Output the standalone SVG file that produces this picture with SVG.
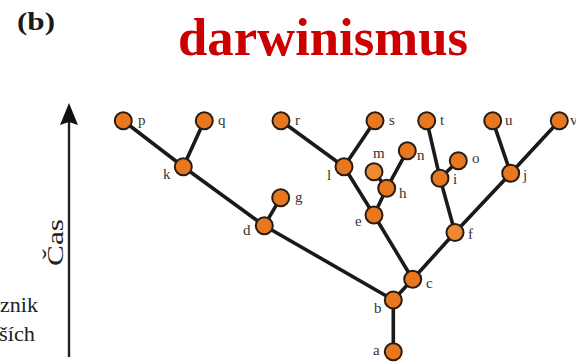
<svg xmlns="http://www.w3.org/2000/svg" width="576" height="363" viewBox="0 0 576 363">
<style>
.e{stroke:#1a1a1a;stroke-width:3.6;fill:none;stroke-linecap:round}
.n{fill:#e8781f;stroke:#2a1c10;stroke-width:2}
.l{font-family:"Liberation Serif","DejaVu Serif",serif;font-size:15px;fill:#333}
.t{font-family:"Liberation Serif","DejaVu Serif",serif}
</style>
<rect width="576" height="363" fill="#fff"/>
<text class="t" x="17" y="30" font-weight="bold" font-size="26" fill="#1a1a1a" textLength="38" lengthAdjust="spacingAndGlyphs">(b)</text>
<text class="t" x="178" y="55" font-weight="bold" font-size="52" fill="#cc0000" textLength="290" lengthAdjust="spacingAndGlyphs">darwinismus</text>
<g id="axis">
<line x1="69" y1="118" x2="69" y2="357" stroke="#222" stroke-width="2.4"/>
<path d="M69,103 L78,125 L69,122 L60,125 Z" fill="#111"/>
<text class="t" transform="translate(63,266) rotate(-90)" font-size="23" fill="#222" textLength="47" lengthAdjust="spacingAndGlyphs">Čas</text>
</g>
<text class="t" x="0" y="312" font-size="21" fill="#222" textLength="38" lengthAdjust="spacingAndGlyphs">znik</text>
<text class="t" x="-1" y="341" font-size="21" fill="#222" textLength="36" lengthAdjust="spacingAndGlyphs">ších</text>
<g id="connectors">
<line class="e" x1="123.3" y1="120.7" x2="183.3" y2="166.7"/>
<line class="e" x1="204.3" y1="120.7" x2="183.3" y2="166.7"/>
<line class="e" x1="183.3" y1="166.7" x2="264.3" y2="225.7"/>
<line class="e" x1="280.7" y1="197.7" x2="264.3" y2="225.7"/>
<line class="e" x1="264.3" y1="225.7" x2="393.3" y2="300"/>
<line class="e" x1="281" y1="120.7" x2="344" y2="166.7"/>
<line class="e" x1="375" y1="120.7" x2="344" y2="166.7"/>
<line class="e" x1="344" y1="166.7" x2="374" y2="215"/>
<line class="e" x1="374" y1="171.7" x2="386.7" y2="188.3"/>
<line class="e" x1="407.3" y1="150.7" x2="386.7" y2="188.3"/>
<line class="e" x1="386.7" y1="188.3" x2="374" y2="215"/>
<line class="e" x1="374" y1="215" x2="412.7" y2="279.3"/>
<line class="e" x1="426.7" y1="120.7" x2="440" y2="178.3"/>
<line class="e" x1="458.3" y1="160.7" x2="440" y2="178.3"/>
<line class="e" x1="440" y1="178.3" x2="455" y2="232.5"/>
<line class="e" x1="492.7" y1="120.7" x2="510.7" y2="173.3"/>
<line class="e" x1="559.3" y1="120.7" x2="510.7" y2="173.3"/>
<line class="e" x1="510.7" y1="173.3" x2="455" y2="232.5"/>
<line class="e" x1="455" y1="232.5" x2="412.7" y2="279.3"/>
<line class="e" x1="412.7" y1="279.3" x2="393.3" y2="300"/>
<line class="e" x1="393.3" y1="300" x2="393.3" y2="351.7"/>
</g>
<g id="node-p"><circle class="n" cx="123.3" cy="120.7" r="8.5"/><text class="l" x="138" y="125">p</text></g>
<g id="node-q"><circle class="n" cx="204.3" cy="120.7" r="8.5"/><text class="l" x="218" y="125">q</text></g>
<g id="node-r"><circle class="n" cx="281" cy="120.7" r="8.5"/><text class="l" x="295" y="125">r</text></g>
<g id="node-s"><circle class="n" cx="375" cy="120.7" r="8.5"/><text class="l" x="389" y="125">s</text></g>
<g id="node-t"><circle class="n" cx="426.7" cy="120.7" r="8.5"/><text class="l" x="440" y="125">t</text></g>
<g id="node-u"><circle class="n" cx="492.7" cy="120.7" r="8.5"/><text class="l" x="505" y="125">u</text></g>
<g id="node-v"><circle class="n" cx="559.3" cy="120.7" r="8.5"/><text class="l" x="570" y="125">v</text></g>
<g id="node-k"><circle class="n" cx="183.3" cy="166.7" r="8.5"/><text class="l" x="163" y="179">k</text></g>
<g id="node-g"><circle class="n" cx="280.7" cy="197.7" r="8.5"/><text class="l" x="295" y="202">g</text></g>
<g id="node-d"><circle class="n" cx="264.3" cy="225.7" r="8.5"/><text class="l" x="243" y="235">d</text></g>
<g id="node-l"><circle class="n" cx="344" cy="166.7" r="8.5"/><text class="l" x="327" y="180">l</text></g>
<g id="node-m"><circle class="n" cx="374" cy="171.7" r="8.5" style="fill:#ec8a30"/><text class="l" x="373" y="158">m</text></g>
<g id="node-n"><circle class="n" cx="407.3" cy="150.7" r="8.5"/><text class="l" x="417" y="160">n</text></g>
<g id="node-o"><circle class="n" cx="458.3" cy="160.7" r="8.5"/><text class="l" x="472" y="163">o</text></g>
<g id="node-h"><circle class="n" cx="386.7" cy="188.3" r="8.5"/><text class="l" x="399" y="198">h</text></g>
<g id="node-i"><circle class="n" cx="440" cy="178.3" r="8.5"/><text class="l" x="453" y="184">i</text></g>
<g id="node-j"><circle class="n" cx="510.7" cy="173.3" r="8.5"/><text class="l" x="523" y="180">j</text></g>
<g id="node-e"><circle class="n" cx="374" cy="215" r="8.5"/><text class="l" x="355" y="226">e</text></g>
<g id="node-f"><circle class="n" cx="455" cy="232.5" r="8.5" style="fill:#ec8a30"/><text class="l" x="468" y="239">f</text></g>
<g id="node-c"><circle class="n" cx="412.7" cy="279.3" r="8.5"/><text class="l" x="426" y="288">c</text></g>
<g id="node-b"><circle class="n" cx="393.3" cy="300" r="8.5"/><text class="l" x="374" y="313">b</text></g>
<g id="node-a"><circle class="n" cx="393.3" cy="351.7" r="8.5"/><text class="l" x="373" y="355">a</text></g>
</svg>
